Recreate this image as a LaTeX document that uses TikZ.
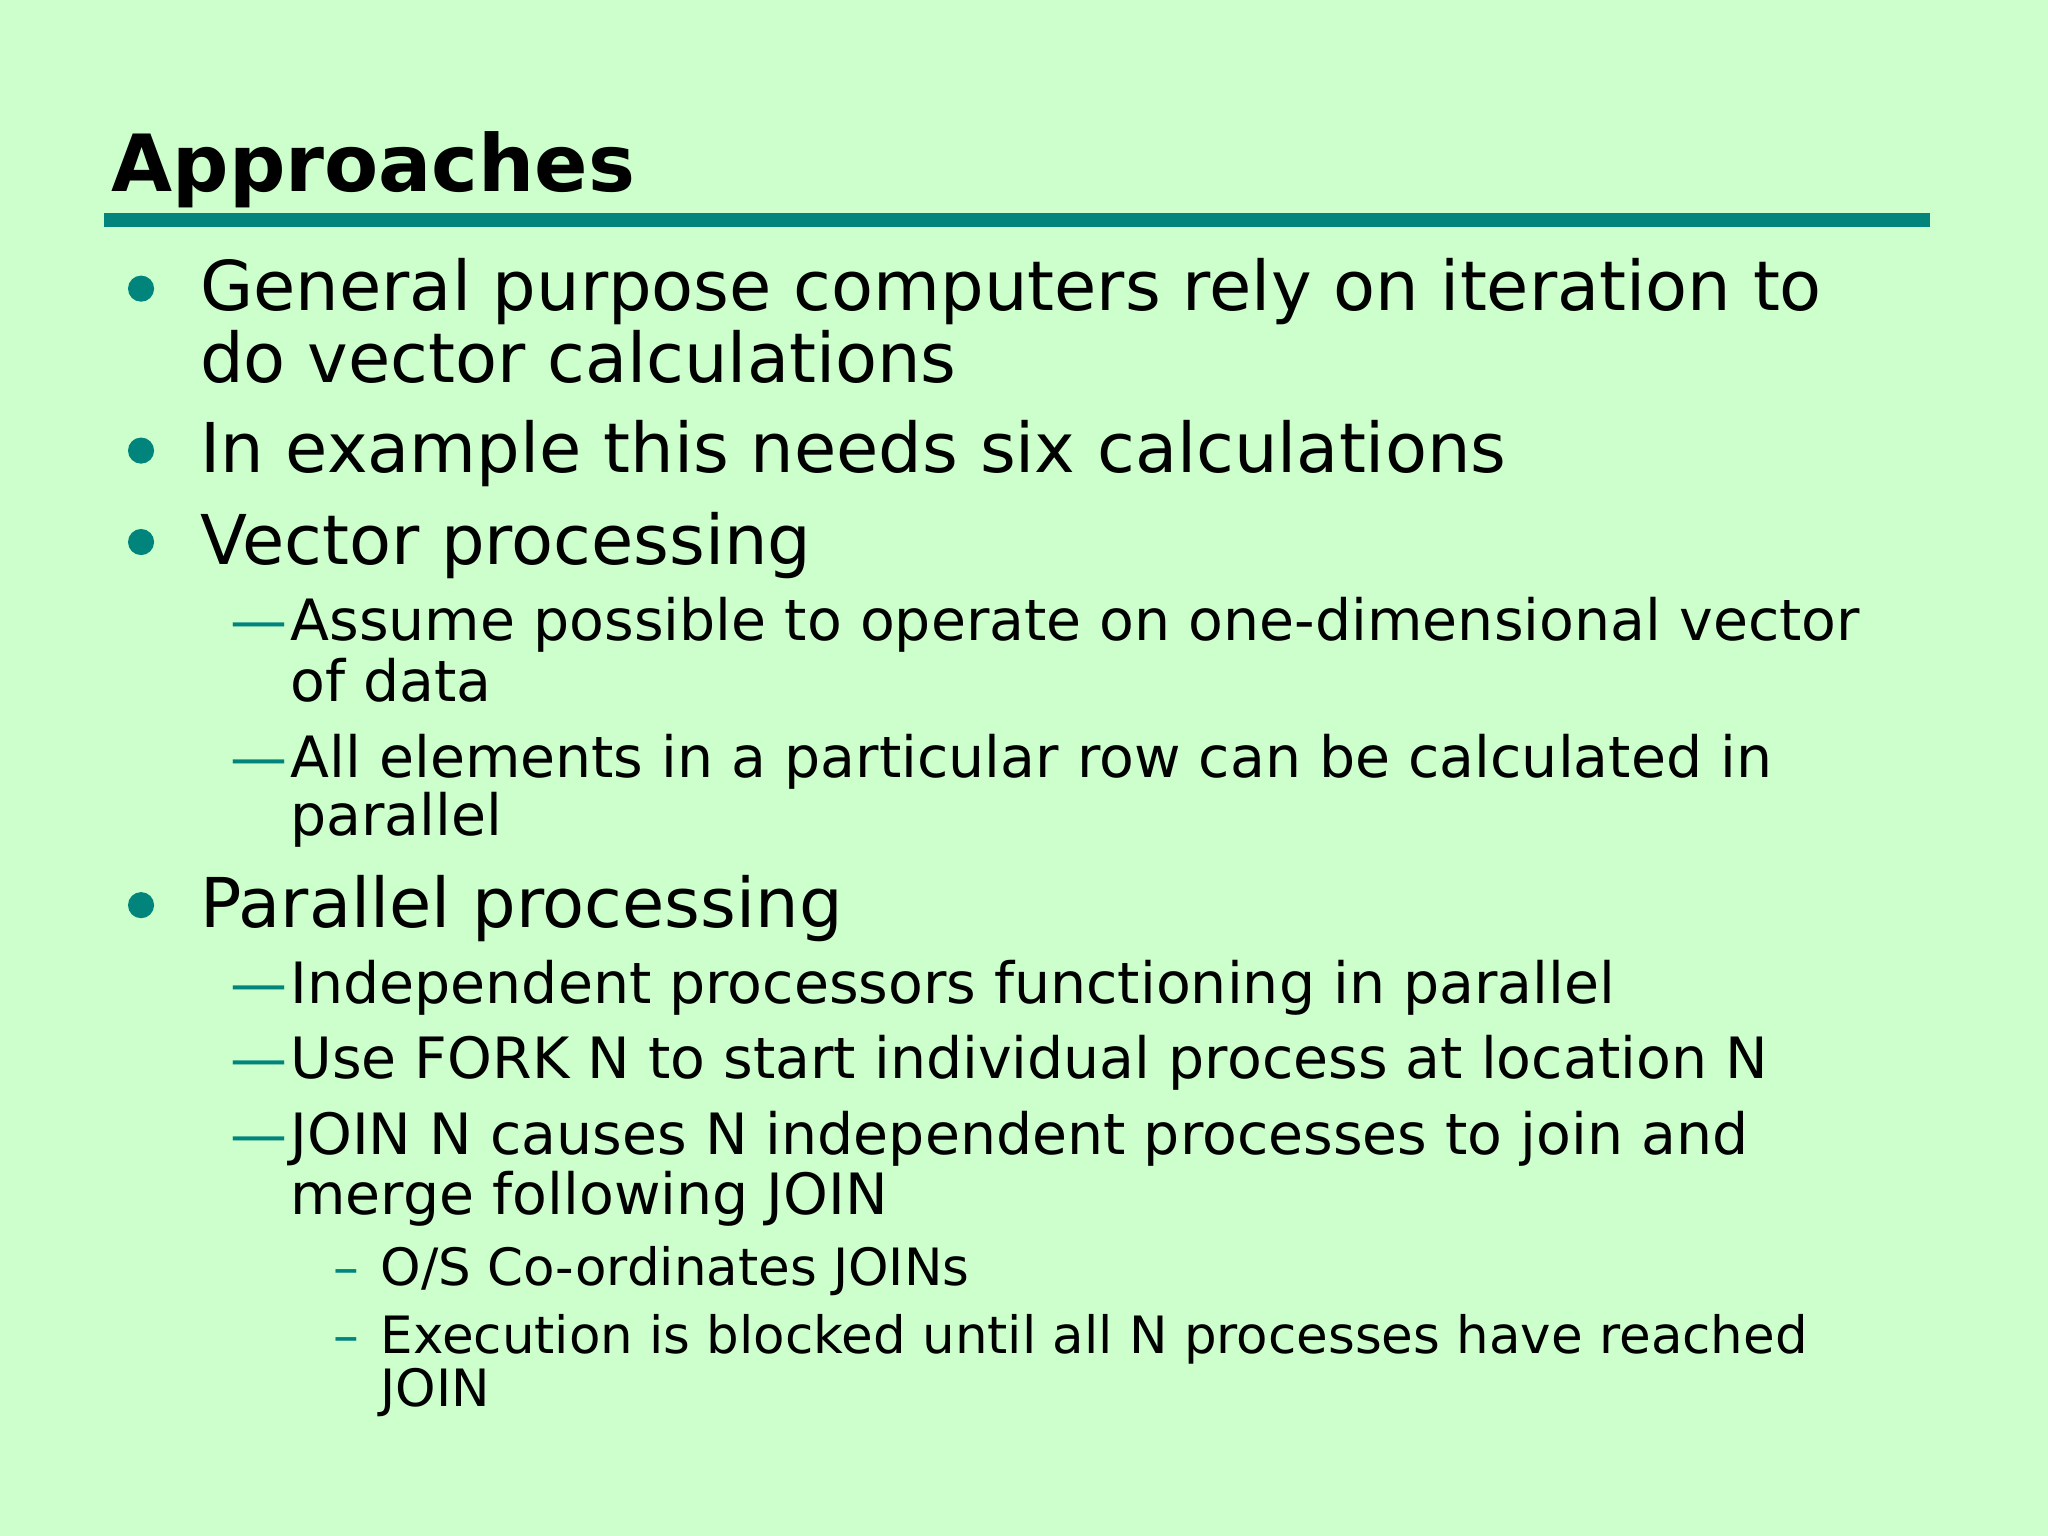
\documentclass[tikz,border=0pt]{standalone}
\usepackage{fontspec}
\setmainfont{DejaVu Sans}
\definecolor{bg}{HTML}{CCFFCC}
\definecolor{tl}{HTML}{00847C}
\begin{document}
\begin{tikzpicture}[x=0.5pt,y=-0.5pt,
  t1/.style={anchor=base west,inner sep=0,font=\fontsize{26.3}{30}\selectfont},
  t2/.style={anchor=base west,inner sep=0,font=\fontsize{21.8}{24}\selectfont},
  t3/.style={anchor=base west,inner sep=0,font=\fontsize{19.7}{22}\selectfont},
  dot/.style={circle,fill=tl,inner sep=0,minimum size=10pt},
  dsh/.style={anchor=base west,inner sep=0,text=tl,font=\fontsize{21.8}{24}\selectfont},
  dsh3/.style={anchor=base west,inner sep=0,text=tl,font=\fontsize{19.7}{22}\selectfont}]
\fill[bg] (0,0) rectangle (1568,1176);
\useasboundingbox (0,0) rectangle (1568,1176);
\node[anchor=base west,inner sep=0,font=\fontsize{30.2}{34}\selectfont\bfseries] (title) at (85,147) {Approaches};
\fill[tl] (80,163) rectangle (1478,174);
\node[dot] (b1) at (108,221) {};
\node[t1] (l1) at (153,238) {General purpose computers rely on iteration to};
\node[t1] (l1b) at (153,293) {do vector calculations};
\node[dot] (b2) at (108,345) {};
\node[t1] (l2) at (153,362) {In example this needs six calculations};
\node[dot] (b3) at (108,415) {};
\node[t1] (l3) at (153,432) {Vector processing};
\node[dsh] (d1) at (176,490) {—};
\node[t2] (s1) at (222,490) {Assume possible to operate on one-dimensional vector};
\node[t2] (s1b) at (222,537) {of data};
\node[dsh] (d2) at (176,595) {—};
\node[t2] (s2) at (222,595) {All elements in a particular row can be calculated in};
\node[t2] (s2b) at (222,640) {parallel};
\node[dot] (b4) at (108,693) {};
\node[t1] (l4) at (153,710) {Parallel processing};
\node[dsh] (d3) at (176,768) {—};
\node[t2] (s3) at (222,768) {Independent processors functioning in parallel};
\node[dsh] (d4) at (176,826) {—};
\node[t2] (s4) at (222,826) {Use FORK N to start individual process at location N};
\node[dsh] (d5) at (176,884) {—};
\node[t2] (s5) at (222,884) {JOIN N causes N independent processes to join and};
\node[t2] (s5b) at (222,930) {merge following JOIN};
\node[dsh3] (e1) at (255,984) {–};
\node[t3] (u1) at (291,984) {O/S Co-ordinates JOINs};
\node[dsh3] (e2) at (255,1036) {–};
\node[t3] (u2) at (291,1036) {Execution is blocked until all N processes have reached};
\node[t3] (u2b) at (291,1077) {JOIN};
\end{tikzpicture}
\end{document}
